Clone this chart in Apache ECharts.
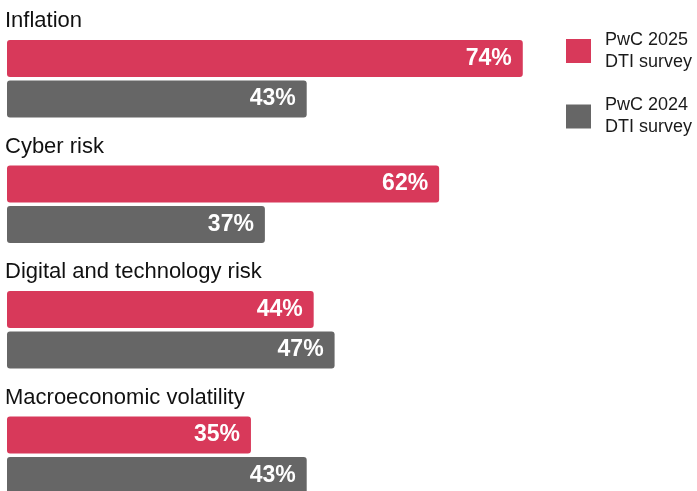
<!DOCTYPE html>
<html>
<head>
<meta charset="utf-8">
<script src="https://cdn.jsdelivr.net/npm/echarts@6/dist/echarts.min.js"></script>
<style>
html,body{margin:0;padding:0;background:#fff;}
#chart{width:697px;height:491px;}
</style>
</head>
<body>
<div id="chart"></div>
<script>
var categories = ['Inflation', 'Cyber risk', 'Digital and technology risk', 'Macroeconomic volatility'];
var series2025 = [74, 62, 44, 35];
var series2024 = [43, 37, 47, 43];
var seriesNames = ['PwC 2025\nDTI survey', 'PwC 2024\nDTI survey'];
var colors = ['#d8395a', '#666666'];

var chart = echarts.init(document.getElementById('chart'), null, {renderer: 'canvas'});
var FONT = 'Liberation Sans, Arial, sans-serif';
var labelStyle = {
  show: true,
  position: 'insideRight',
  distance: 11,
  color: '#ffffff',
  fontFamily: FONT,
  fontWeight: 'bold',
  fontSize: 23,
  formatter: '{c}%'
};
chart.setOption({
  animation: false,
  backgroundColor: '#ffffff',
  grid: {left: 7, top: 16, width: 697, height: 502, outerBoundsMode: 'none', containLabel: false},
  xAxis: {
    type: 'value', min: 0, max: 100,
    show: false
  },
  yAxis: {
    type: 'category',
    data: categories,
    inverse: true,
    axisLine: {show: false},
    axisTick: {show: false},
    splitLine: {show: false},
    axisLabel: {show: false}
  },
  legend: {
    orient: 'vertical',
    left: 566,
    top: 29,
    padding: 0,
    itemWidth: 25,
    itemHeight: 24,
    itemGap: 21.5,
    icon: 'rect',
    selectedMode: false,
    textStyle: {
      color: '#1a1a1a',
      fontFamily: FONT,
      fontSize: 18,
      lineHeight: 22,
      padding: [0, 0, 0, 9]
    },
    data: seriesNames
  },
  series: [
    {
      name: seriesNames[0], type: 'bar', data: series2025,
      barWidth: 37, barGap: '9%',
      itemStyle: {color: colors[0], borderRadius: 3},
      label: labelStyle
    },
    {
      name: seriesNames[1], type: 'bar', data: series2024,
      barWidth: 37,
      itemStyle: {color: colors[1], borderRadius: 3},
      label: labelStyle
    },
    {
      name: 'categoryTitles', type: 'custom', silent: true,
      data: categories.map(function (c, i) { return [0, i]; }),
      encode: {x: 0, y: 1},
      renderItem: function (params, api) {
        var p = api.coord([0, api.value(1)]);
        return {
          type: 'text',
          x: p[0] - 2,
          y: p[1] - 57.5,
          style: {
            text: categories[params.dataIndex],
            fill: '#111111',
            font: '22px ' + FONT,
            verticalAlign: 'middle',
            align: 'left'
          }
        };
      }
    }
  ]
});
</script>
</body>
</html>
